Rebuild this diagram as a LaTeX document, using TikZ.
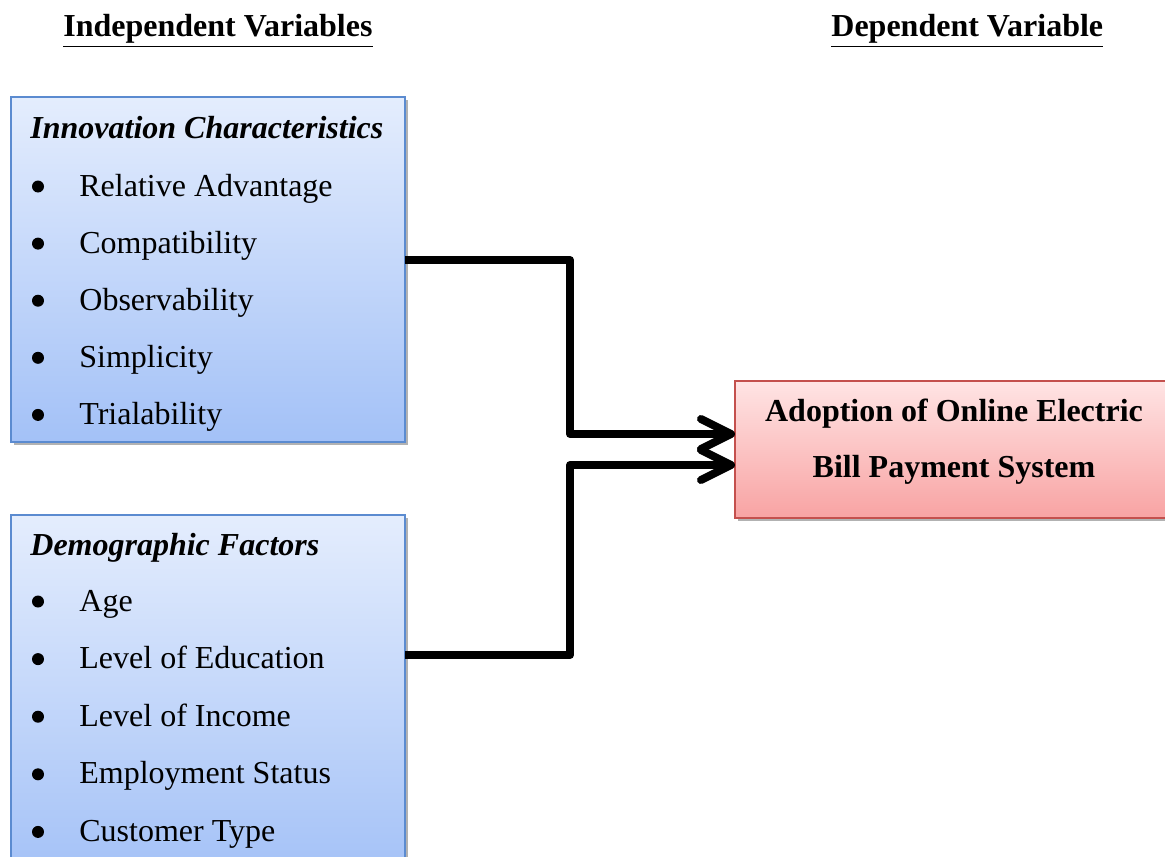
\documentclass[tikz,border=0pt]{standalone}
\usepackage{fontspec}
\setmainfont{Liberation Serif}
\usetikzlibrary{arrows.meta,shadows}

\definecolor{ivedge}{RGB}{91,139,208}
\definecolor{ivtop}{RGB}{228,237,253}
\definecolor{ivbot}{RGB}{163,193,247}
\definecolor{dvedge}{RGB}{196,80,77}
\definecolor{dvtop}{RGB}{255,228,228}
\definecolor{dvbot}{RGB}{248,163,163}

\tikzset{
  varbox/.style={draw=ivedge,line width=1pt,top color=ivtop,bottom color=ivbot,
    inner sep=0pt,outer sep=0pt,minimum width=197pt,
    drop shadow={shadow xshift=1.5pt,shadow yshift=-1.5pt,opacity=0.3,fill=black}},
  depbox/.style={varbox,draw=dvedge,top color=dvtop,bottom color=dvbot},
  label/.style={anchor=base west,inner sep=0pt},
  dot/.style={circle,fill=black,inner sep=0pt,minimum size=6pt},
  link/.style={line width=4pt,line join=round,
    -{Straight Barb[length=15pt,width=15pt,round]}},
}

\begin{document}
\begin{tikzpicture}[x=0.5pt,y=-0.5pt,font=\fontsize{16}{19}\selectfont]
    \clip (0,0) rectangle (1165,856);

    % column titles
    \node[label] (indep) at (63,37) {\underline{\textbf{Independent Variables}}};
    \node[label] (dep) at (831,37) {\underline{\textbf{Dependent Variable}}};

    % the three boxes
    \node[varbox,minimum height=172.5pt] (inno) at (208,269.5) {};
    \node[varbox,minimum height=182.5pt] (demo) at (208,697.5) {};
    \node[depbox,minimum width=225pt,minimum height=68.5pt] (adopt) at (960,449.5) {};

    % innovation characteristics
    \node[label] (inno-h) at (30,138) {\textbf{\textit{Innovation Characteristics}}};
    \foreach \txt [count=\i] in {Relative Advantage,Compatibility,Observability,Simplicity,Trialability} {
        \node[dot] (inno-b\i) at (38,{186.5+57.1*(\i-1)}) {};
        \node[label] (inno-\i) at (79,{196+57.1*(\i-1)}) {\txt};
    }

    % demographic factors
    \node[label] (demo-h) at (30,555) {\textbf{\textit{Demographic Factors}}};
    \foreach \txt [count=\i] in {Age,Level of Education,Level of Income,Employment Status,Customer Type} {
        \node[dot] (demo-b\i) at (38,{601.5+57.6*(\i-1)}) {};
        \node[label] (demo-\i) at (79,{611+57.6*(\i-1)}) {\txt};
    }

    % dependent variable
    \node[anchor=base,inner sep=0pt] (adopt-1) at (954,421) {\textbf{Adoption of Online Electric}};
    \node[anchor=base,inner sep=0pt] (adopt-2) at (954,477) {\textbf{Bill Payment System}};

    % connectors
    \draw[link] (inno.east |- 0,260) -- (570,260) |- (adopt.west |- 0,434);
    \draw[link] (demo.east |- 0,655) -- (570,655) |- (adopt.west |- 0,465);
\end{tikzpicture}
\end{document}
